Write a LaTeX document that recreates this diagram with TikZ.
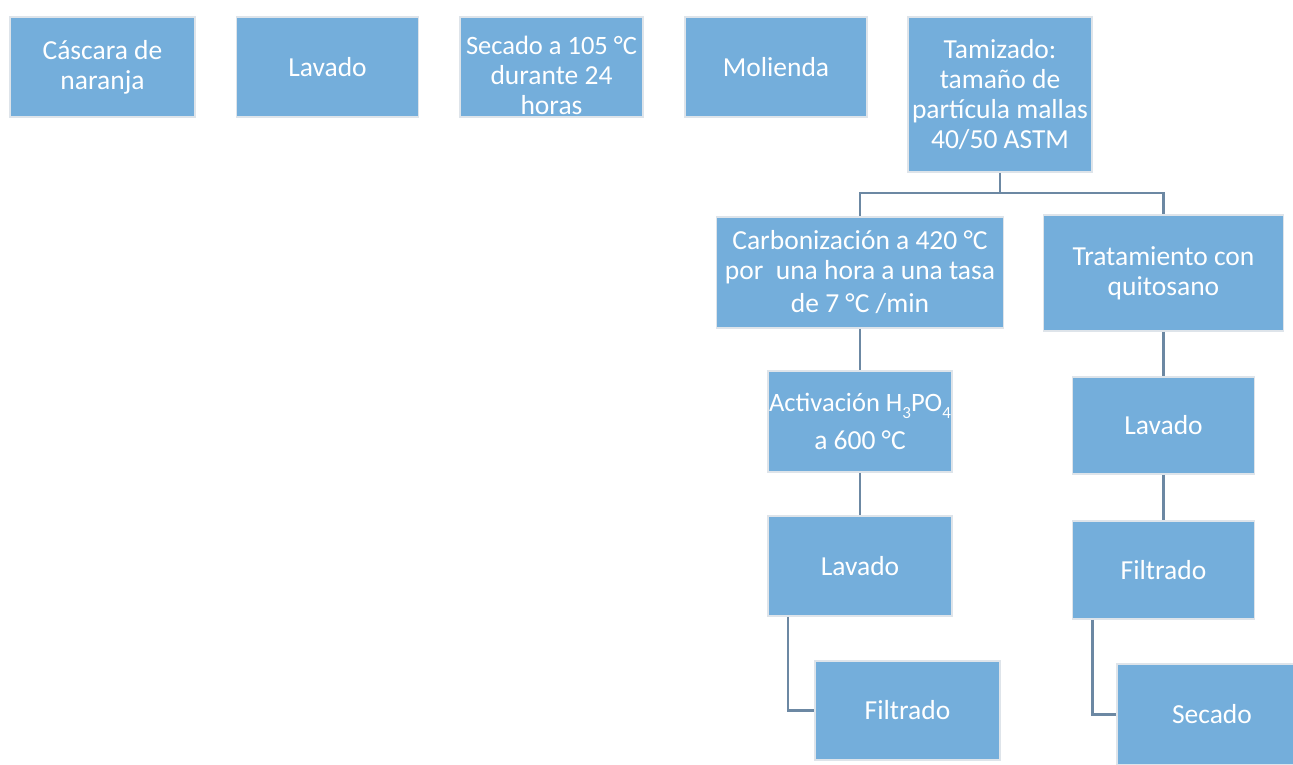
\documentclass[tikz,border=0pt]{standalone}
\usepackage{fontspec}
\setmainfont{Carlito}
\definecolor{boxfill}{RGB}{116,174,219}
\definecolor{boxline}{RGB}{222,228,234}
\definecolor{conn}{RGB}{108,136,163}
\newcommand{\tightline}[1]{{\fontsize{26.5}{30}\selectfont #1}}
\newcommand{\subsm}[1]{\raisebox{-0.25em}{\fontsize{17}{17}\selectfont #1}}
\begin{document}
\begin{tikzpicture}[x=1pt,y=-1pt,
  box/.style={rectangle, fill=boxfill, draw=boxline, line width=1.5pt, text=white,
    align=center, inner sep=1pt, font=\fontsize{27.5}{30}\selectfont},
  boxtext/.style={text=white, align=center, inner sep=1pt, font=\fontsize{27.5}{30}\selectfont},
  conline/.style={draw=conn, line width=2.7pt}]
\useasboundingbox (0,0) rectangle (1293,765);
\fill[white] (0,0) rectangle (1293,765);
% top row
\node[box, minimum width=185, minimum height=100] (cascara) at (102.5,67) {Cáscara de\\naranja};
\node[box, minimum width=182, minimum height=100] (lavado0) at (327.5,67) {Lavado};
\node[box, minimum width=183, minimum height=100] (secado0) at (551.5,67) {};
\node[boxtext] (secado0t) at ([yshift=-8pt]secado0.center) {\makebox[178pt][c]{\tightline{Secado a 105 °C}}\\durante 24\\horas};
\node[box, minimum width=182, minimum height=100] (molienda) at (776,67) {Molienda};
\node[box, minimum width=184, minimum height=155] (tamizado) at (1000,94.5) {Tamizado:\\tamaño de\\partícula mallas\\40/50 ASTM};
% branches
\node[box, minimum width=287, minimum height=111] (carbon) at (860,272.5) {Carbonización a 420 °C\\por\ \ una hora a una tasa\\[3pt]de 7 °C /min};
\node[box, minimum width=240, minimum height=116] (quito) at (1163.5,273) {Tratamiento con\\quitosano};
% left column
\node[box, minimum width=184, minimum height=101] (activ) at (860,421.5) {\makebox[178pt][c]{\tightline{Activación H\subsm{3}PO\subsm{4}}}\\[8pt]a 600 °C};
\node[box, minimum width=184, minimum height=100] (lavadoL) at (860,566) {Lavado};
\node[box, minimum width=185, minimum height=99] (filtL) at (907.5,710.5) {Filtrado};
% right column
\node[box, minimum width=182, minimum height=97] (lavadoR) at (1163.5,425.5) {Lavado};
\node[box, minimum width=182, minimum height=98] (filtR) at (1163.5,570) {Filtrado};
\node[box, minimum width=190, minimum height=101] (secadoR) at (1212,714.5) {Secado};
% connectors
\coordinate (split) at (1000,193);
\draw[conline] (tamizado.south) -- (split);
\draw[conline] (split) -| (carbon.north);
\draw[conline] (split) -| (quito.north);
\draw[conline] (carbon.south) -- (activ.north);
\draw[conline] (activ.south) -- (lavadoL.north);
\draw[conline] ([xshift=-72pt]lavadoL.south) |- (filtL.west);
\draw[conline] (quito.south) -- (lavadoR.north);
\draw[conline] (lavadoR.south) -- (filtR.north);
\draw[conline] ([xshift=-71pt]filtR.south) |- (secadoR.west);
\end{tikzpicture}
\end{document}
